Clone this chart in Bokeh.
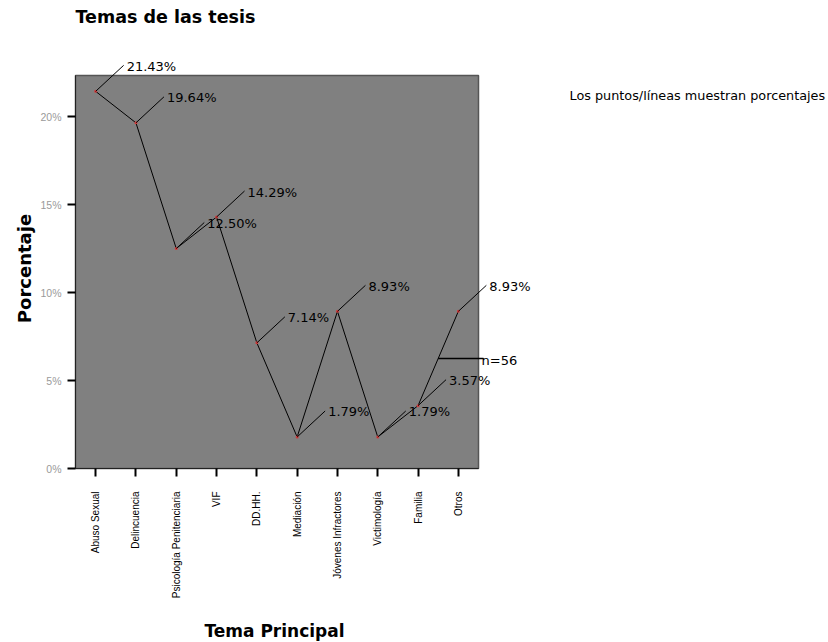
import math
from bokeh.plotting import figure
from bokeh.models import (Range1d, FixedTicker, PrintfTickFormatter, ColumnDataSource,
                          LabelSet, Label)
from bokeh.core.properties import value
from bokeh.embed import file_html
from bokeh.resources import INLINE

# ---------------- data ----------------
title_text = "Temas de las tesis"
categories = ["Abuso Sexual", "Delincuencia", "Psicología Penitenciaria", "VIF", "DD.HH.",
              "Mediación", "Jóvenes Infractores", "Victimología", "Familia", "Otros"]
percentages = [21.43, 19.64, 12.50, 14.29, 7.14, 1.79, 8.93, 1.79, 3.57, 8.93]
y_ticks = [0, 5, 10, 15, 20]
n_total = 56
x_title = "Tema Principal"
y_title = "Porcentaje"
note_text = "Los puntos/líneas muestran porcentajes"

# ---------------- layout ----------------
W, H = 828, 642
AL, AT, AR, AB = 75, 75, 478, 468   # gray plot area in canvas pixels
Y_MAX = 22.33
NC = len(categories)
PX_X = (AR - AL) / NC
PX_Y = (AB - AT) / Y_MAX


def dx(px):   # canvas pixel -> data x
    return (px - AL) / PX_X - 0.5


def dy(py):   # canvas pixel -> data y
    return (AB - py) / PX_Y


p = figure(width=W, height=H, x_range=Range1d(dx(0), dx(W)), y_range=Range1d(dy(H), dy(0)),
           output_backend="svg", toolbar_location=None,
           min_border_left=0, min_border_right=0, min_border_top=0, min_border_bottom=0,
           background_fill_color="white", border_fill_color="white",
           outline_line_color=None)
p.xgrid.visible = False
p.ygrid.visible = False

xs = list(range(NC))

# gray plot area
p.quad(left=[-0.5], right=[NC - 0.5], bottom=[0], top=[Y_MAX],
       fill_color="#808080", line_color="#555555", line_width=1.5)

# x axis
xa = p.xaxis[0]
xa.fixed_location = 0
xa.bounds = (-0.5, NC - 0.5)
xa.ticker = FixedTicker(ticks=xs)
xa.major_label_overrides = {i: c for i, c in enumerate(categories)}
xa.major_label_orientation = math.pi / 2
xa.major_label_text_font = "Liberation Sans"
xa.major_label_text_font_size = "10px"
xa.major_label_text_color = "black"
xa.major_label_standoff = 15
xa.major_tick_out = 8
xa.major_tick_in = 0
xa.major_tick_line_width = 2
xa.major_tick_line_color = "black"
xa.minor_tick_line_color = None
xa.axis_line_color = "#222222"

# y axis
ya = p.yaxis[0]
ya.fixed_location = -0.5
ya.bounds = (0, Y_MAX)
ya.ticker = FixedTicker(ticks=y_ticks)
ya.formatter = PrintfTickFormatter(format="%d%%")
ya.major_label_text_font = "Liberation Sans"
ya.major_label_text_font_size = "10.5px"
ya.major_label_text_color = "#9a9a9a"
ya.major_label_standoff = 6
ya.major_tick_out = 8
ya.major_tick_in = 0
ya.major_tick_line_width = 2
ya.major_tick_line_color = "black"
ya.minor_tick_line_color = None
ya.axis_line_color = "#222222"

# line and points
p.line(xs, percentages, line_color="black", line_width=1)
p.scatter(xs, percentages, size=3, color="#d03a3a", line_color=None)

# leader lines + labels
LEAD_DX, LEAD_DY = 28, 26
TXT_DX, TXT_DY = 31, 25
src = ColumnDataSource(dict(
    x=xs, y=percentages,
    lx=[x + LEAD_DX / PX_X for x in xs],
    ly=[y + LEAD_DY / PX_Y for y in percentages],
    label=[f"{v:.2f}%" for v in percentages],
))
p.segment(x0="x", y0="y", x1="lx", y1="ly", source=src, line_color="black", line_width=1)
p.add_layout(LabelSet(x="x", y="y", text="label", source=src,
                      x_offset=TXT_DX, y_offset=TXT_DY, text_baseline="middle",
                      text_font=value("DejaVu Sans"), text_font_size=value("13px"),
                      text_color="black"))

# n label from middle of last segment
mx = (xs[-2] + xs[-1]) / 2
my = (percentages[-2] + percentages[-1]) / 2
p.segment(x0=[mx], y0=[my], x1=[dx(483)], y1=[my], line_color="black", line_width=1.5)
p.add_layout(Label(x=dx(481), y=my, y_offset=-2, text=f"n={n_total}",
                   text_baseline="middle", text_font="DejaVu Sans",
                   text_font_size="13px", text_color="black"))

# titles
p.add_layout(Label(x=-0.5, y=dy(16), text=title_text, text_align="left",
                   text_baseline="middle", text_font="DejaVu Sans",
                   text_font_style="bold", text_font_size="17.5px", text_color="black"))
p.add_layout(Label(x=dx(24), y=dy(268), text=y_title, angle=math.pi / 2,
                   text_align="center", text_baseline="middle", text_font="DejaVu Sans",
                   text_font_style="bold", text_font_size="18px", text_color="black"))
p.add_layout(Label(x=dx(274), y=dy(630), text=x_title, text_align="center",
                   text_baseline="middle", text_font="DejaVu Sans",
                   text_font_style="bold", text_font_size="17px", text_color="black"))
p.add_layout(Label(x=dx(569), y=dy(95), text=note_text, text_align="left",
                   text_baseline="middle", text_font="DejaVu Sans",
                   text_font_size="12.8px", text_color="black"))

open("out.html", "w").write(file_html(p, INLINE))
